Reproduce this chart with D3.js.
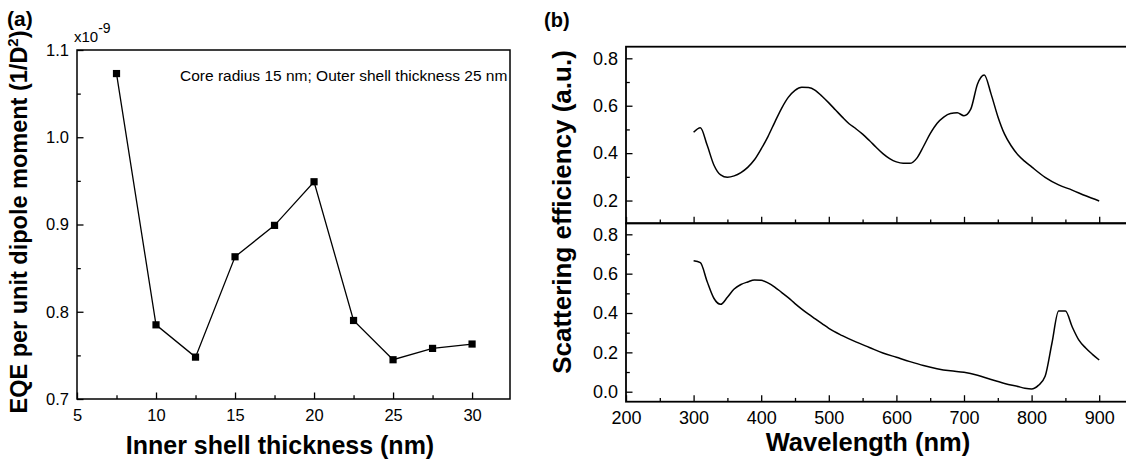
<!DOCTYPE html>
<html>
<head>
<meta charset="utf-8">
<script src="https://cdn.jsdelivr.net/npm/d3@7"></script>
<style>
  html, body { margin: 0; padding: 0; background: #fff; }
  svg { display: block; font-family: Arial, "Liberation Sans", sans-serif; }
</style>
</head>
<body>
<svg id="chart" width="1126" height="459"></svg>
<script>
// ---------- data ----------
const thickness = [7.5, 10, 12.5, 15, 17.5, 20, 22.5, 25, 27.5, 30];
const eqe = [1.073, 0.785, 0.748, 0.863, 0.899, 0.949, 0.790, 0.745, 0.758, 0.763]; // x1e-9

const wlTop = [300,310,320,330,340,350,360,370,380,390,400,410,420,430,440,450,460,470,480,490,
               500,510,520,530,540,550,560,570,580,590,600,610,620,630,640,650,660,670,680,690,
               700,710,720,730,740,750,760,770,780,790,800,820,840,860,880,900];
const scatTop = [0.488,0.507,0.434,0.350,0.308,0.298,0.304,0.318,0.340,0.372,0.418,0.470,0.530,0.588,0.635,0.665,0.678,0.677,0.665,0.640,
                 0.612,0.582,0.552,0.524,0.503,0.480,0.453,0.425,0.398,0.377,0.363,0.357,0.357,0.378,0.428,0.482,0.525,0.552,0.567,0.570,
                 0.558,0.586,0.692,0.730,0.650,0.555,0.480,0.430,0.392,0.365,0.342,0.298,0.266,0.244,0.220,0.198];

const wlBot = [300,310,320,330,340,350,360,370,380,390,400,410,420,430,440,450,460,470,480,490,
               500,520,540,560,580,600,620,640,660,680,700,720,740,760,780,790,800,810,820,830,
               840,850,860,870,880,890,900];
const scatBot = [0.666,0.656,0.560,0.475,0.444,0.480,0.522,0.545,0.558,0.568,0.566,0.553,0.532,0.505,0.478,0.448,0.420,0.394,0.370,0.346,
                 0.322,0.285,0.253,0.225,0.197,0.175,0.153,0.133,0.117,0.106,0.099,0.084,0.062,0.042,0.026,0.018,0.014,0.032,0.078,0.245,
                 0.410,0.410,0.330,0.262,0.222,0.190,0.161];

const aXMajor = [5, 10, 15, 20, 25, 30];
const aXMinor = [7.5, 12.5, 17.5, 22.5, 27.5];
const aYMajor = [0.7, 0.8, 0.9, 1.0, 1.1];
const aYMinor = [0.75, 0.85, 0.95, 1.05];
const bXMajor = [200, 300, 400, 500, 600, 700, 800, 900];
const bXMinor = [250, 350, 450, 550, 650, 750, 850];
const bYMajorTop = [0.2, 0.4, 0.6, 0.8];
const bYMinorTop = [0.3, 0.5, 0.7];
const bYMajorBot = [0.0, 0.2, 0.4, 0.6, 0.8];
const bYMinorBot = [0.1, 0.3, 0.5, 0.7];

// ---------- setup ----------
const svg = d3.select("#chart");
const FONT = 'Arial, "Liberation Sans", sans-serif';

function drawAxisX(g, scale, major, minor, y, fmt, withLabels, fs) {
  const ax = g.append("g").attr("transform", `translate(0,${y})`);
  ax.call(d3.axisBottom(scale).tickValues(major).tickSize(-6.5).tickPadding(10)
      .tickFormat(withLabels ? fmt : () => ""));
  ax.select(".domain").remove();
  ax.attr("font-size", fs).attr("font-family", FONT);
  ax.selectAll(".tick line").attr("stroke", "#000").attr("stroke-width", 1.3);
  ax.selectAll(".tick text").attr("font-size", fs).attr("fill", "#000");
  const mx = g.append("g").attr("transform", `translate(0,${y})`);
  mx.call(d3.axisBottom(scale).tickValues(minor).tickSize(-3.8).tickFormat(() => ""));
  mx.select(".domain").remove();
  mx.selectAll(".tick line").attr("stroke", "#000").attr("stroke-width", 1.3);
}
function drawAxisY(g, scale, major, minor, x, fmt, fs) {
  const ax = g.append("g").attr("transform", `translate(${x},0)`);
  ax.call(d3.axisLeft(scale).tickValues(major).tickSize(-6.5).tickPadding(8).tickFormat(fmt));
  ax.select(".domain").remove();
  ax.attr("font-size", fs).attr("font-family", FONT);
  ax.selectAll(".tick line").attr("stroke", "#000").attr("stroke-width", 1.3);
  ax.selectAll(".tick text").attr("font-size", fs).attr("fill", "#000");
  const mx = g.append("g").attr("transform", `translate(${x},0)`);
  mx.call(d3.axisLeft(scale).tickValues(minor).tickSize(-3.8).tickFormat(() => ""));
  mx.select(".domain").remove();
  mx.selectAll(".tick line").attr("stroke", "#000").attr("stroke-width", 1.3);
}

// ---------- panel (a) ----------
const A = { l: 77, r: 510, t: 50, b: 399 };
const xA = d3.scaleLinear().domain([5, 32.4]).range([A.l, A.r]);
const yA = d3.scaleLinear().domain([0.7, 1.1]).range([A.b, A.t]);
const gA = svg.append("g");

drawAxisX(gA, xA, aXMajor, aXMinor, A.b, d3.format("d"), true, 16.5);
drawAxisY(gA, yA, aYMajor, aYMinor, A.l, d3.format(".1f"), 16.5);

gA.append("rect").attr("x", A.l).attr("y", A.t).attr("width", A.r - A.l).attr("height", A.b - A.t)
  .attr("fill", "none").attr("stroke", "#000").attr("stroke-width", 1.5);

const ptsA = thickness.map((t, i) => [t, eqe[i]]);
gA.append("path").datum(ptsA)
  .attr("d", d3.line().x(d => xA(d[0])).y(d => yA(d[1])))
  .attr("fill", "none").attr("stroke", "#000").attr("stroke-width", 1.3);
gA.selectAll("rect.m").data(ptsA).enter().append("rect").attr("class", "m")
  .attr("x", d => xA(d[0]) - 3.6).attr("y", d => yA(d[1]) - 3.6)
  .attr("width", 7.2).attr("height", 7.2).attr("fill", "#000");

gA.append("text").attr("x", 180).attr("y", 81).attr("font-size", 15.5).attr("font-family", FONT)
  .text("Core radius 15 nm; Outer shell thickness 25 nm");

const sci = gA.append("text").attr("x", 74).attr("y", 42).attr("font-size", 15).attr("font-family", FONT);
sci.append("tspan").text("x10");
sci.append("tspan").attr("dy", -9).attr("font-size", 14).text("-9");

gA.append("text").attr("x", 280).attr("y", 454).attr("text-anchor", "middle")
  .attr("font-size", 25).attr("font-weight", "bold").attr("font-family", FONT)
  .text("Inner shell thickness (nm)");

const yl = gA.append("text").attr("transform", "translate(27,222) rotate(-90)").attr("text-anchor", "middle")
  .attr("font-size", 23.5).attr("font-weight", "bold").attr("font-family", FONT);
yl.append("tspan").text("EQE per unit dipole moment (1/D");
yl.append("tspan").attr("dy", -9).attr("font-size", 15).text("2");
yl.append("tspan").attr("dy", 9).text(")");

svg.append("text").attr("x", 7).attr("y", 26).attr("font-size", 21).attr("font-weight", "bold")
  .attr("font-family", FONT).text("(a)");

// ---------- panel (b) ----------
const B = { l: 626, r: 1133, t: 46.7, m: 223.3, b: 401.7 };
const xB = d3.scaleLinear().domain([200, 950]).range([B.l, B.r]);
const yBT = d3.scaleLinear().domain([0.104, 0.849]).range([B.m, B.t]);
const yBB = d3.scaleLinear().domain([-0.0508, 0.856]).range([B.b, B.m]);
const gB = svg.append("g");

drawAxisX(gB, xB, bXMajor, bXMinor, B.m, d3.format("d"), false, 18);
drawAxisX(gB, xB, bXMajor, bXMinor, B.b, d3.format("d"), true, 18);
drawAxisY(gB, yBT, bYMajorTop, bYMinorTop, B.l, d3.format(".1f"), 18);
drawAxisY(gB, yBB, bYMajorBot, bYMinorBot, B.l, d3.format(".1f"), 18);

gB.append("rect").attr("x", B.l).attr("y", B.t).attr("width", B.r - B.l).attr("height", B.m - B.t)
  .attr("fill", "none").attr("stroke", "#000").attr("stroke-width", 1.8);
gB.append("rect").attr("x", B.l).attr("y", B.m).attr("width", B.r - B.l).attr("height", B.b - B.m)
  .attr("fill", "none").attr("stroke", "#000").attr("stroke-width", 1.8);

const lineT = d3.line().curve(d3.curveMonotoneX).x(d => xB(d[0])).y(d => yBT(d[1]));
const lineB = d3.line().curve(d3.curveMonotoneX).x(d => xB(d[0])).y(d => yBB(d[1]));
gB.append("path").datum(wlTop.map((w, i) => [w, scatTop[i]])).attr("d", lineT)
  .attr("fill", "none").attr("stroke", "#000").attr("stroke-width", 1.5);
gB.append("path").datum(wlBot.map((w, i) => [w, scatBot[i]])).attr("d", lineB)
  .attr("fill", "none").attr("stroke", "#000").attr("stroke-width", 1.5);

gB.append("text").attr("x", 868).attr("y", 451).attr("text-anchor", "middle")
  .attr("font-size", 25.5).attr("font-weight", "bold").attr("font-family", FONT)
  .text("Wavelength (nm)");
gB.append("text").attr("transform", "translate(571,212) rotate(-90)").attr("text-anchor", "middle")
  .attr("font-size", 26).attr("font-weight", "bold").attr("font-family", FONT)
  .text("Scattering efficiency (a.u.)");

svg.append("text").attr("x", 544).attr("y", 27).attr("font-size", 20).attr("font-weight", "bold")
  .attr("font-family", FONT).text("(b)");
</script>
</body>
</html>
